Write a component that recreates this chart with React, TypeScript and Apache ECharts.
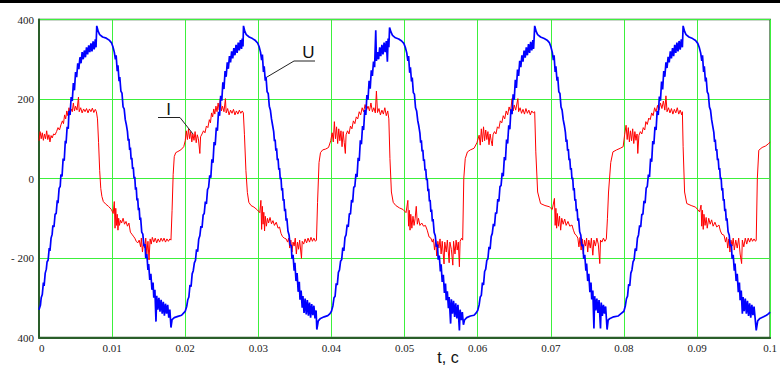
import React, { useEffect, useRef } from "react";
import * as echarts from "echarts";

// time in ms, value
const xTickValues = [0, 10, 20, 30, 40, 50, 60, 70, 80, 90, 100];
const xTickLabels = ["0", "0.01", "0.02", "0.03", "0.04", "0.05", "0.06", "0.07", "0.08", "0.09", "0.1"];
const yTickValues = [-400, -200, 0, 200, 400];
const yTickLabels = ["400", "- 200", "0", "200", "400"];
const xAxisTitle = "t, c";
const labelU = "U";
const labelI = "I";

const U_c1 = [[0.0,-330],[0.2,-318],[0.3,-300],[0.45,-292],[0.6,-262],[0.7,-270],[0.85,-238],[1.0,-228],[1.1,-210],[1.25,-205],[1.4,-175],[1.5,-182],[1.65,-150],[1.8,-140],[1.9,-118],[2.05,-122],[2.2,-90],[2.35,-88],[2.5,-55],[2.6,-62],[2.75,-25],[2.9,-20],[3.0,10],[3.15,5],[3.3,50],[3.45,45],[3.6,95],[3.7,88],[3.85,130],[4.0,125],[4.1,170],[4.25,160],[4.4,205],[4.55,195],[4.7,240],[4.85,222],[5.0,268],[5.15,255],[5.3,290],[5.45,275],[5.6,305],[5.75,290],[5.9,318],[6.05,300],[6.2,322],[6.35,305],[6.5,330],[6.65,312],[6.8,335],[6.95,318],[7.1,340],[7.25,320],[7.4,345],[7.55,325],[7.7,350],[7.8,330],[7.9,384],[8.1,370],[8.3,362],[8.7,356],[9.2,353],[9.6,348],[9.9,342],[10.1,332],[10.3,318],[10.45,300],[10.55,310],[10.7,270],[10.8,285],[10.95,245],[11.05,255],[11.2,220],[11.35,215],[11.5,180],[11.65,175],[11.8,148],[11.95,135],[12.1,118],[12.2,95],[12.3,100],[12.4,72],[12.5,78],[12.6,48],[12.7,52],[12.8,24],[12.9,28],[13.0,0],[13.1,4],[13.2,-28],[13.3,-22],[13.4,-55],[13.5,-50],[13.6,-80],[13.7,-74],[13.8,-104],[13.9,-98],[14.05,-135],[14.2,-140],[14.35,-170],[14.5,-165],[14.6,-200],[14.75,-190],[14.9,-230],[15.0,-215],[15.15,-255],[15.3,-240],[15.45,-280],[15.6,-262],[15.7,-300],[15.85,-280],[16.0,-360],[16.1,-295],[16.25,-330],[16.4,-300],[16.55,-335],[16.7,-305],[16.85,-340],[17.0,-310],[17.15,-345],[17.3,-315],[17.45,-340],[17.6,-318],[17.75,-350],[17.9,-330],[18.05,-375],[18.2,-355],[18.5,-350],[19.0,-347],[19.5,-344],[19.8,-338],[20.0,-334]];
const U_c2 = [[20.2,-322],[20.35,-305],[20.5,-298],[20.65,-268],[20.8,-272],[20.95,-240],[21.1,-232],[21.25,-212],[21.4,-206],[21.55,-178],[21.7,-184],[21.85,-152],[22.0,-144],[22.15,-120],[22.3,-124],[22.45,-92],[22.6,-88],[22.75,-58],[22.9,-64],[23.05,-28],[23.2,-22],[23.35,8],[23.5,2],[23.65,48],[23.8,40],[23.95,92],[24.1,84],[24.25,128],[24.4,120],[24.55,168],[24.7,158],[24.85,208],[25.0,196],[25.15,242],[25.3,225],[25.45,270],[25.6,256],[25.75,292],[25.9,276],[26.05,308],[26.2,292],[26.35,320],[26.5,302],[26.65,328],[26.8,310],[26.95,336],[27.1,316],[27.25,342],[27.4,322],[27.55,348],[27.7,326],[27.8,352],[27.9,332],[27.97,384],[28.15,370],[28.35,362],[28.75,356],[29.2,352],[29.6,347],[29.9,341],[30.1,332],[30.3,318],[30.45,298],[30.55,312],[30.7,268],[30.8,282],[30.95,246],[31.05,256],[31.2,218],[31.35,214],[31.5,182],[31.65,172],[31.8,150],[31.95,134],[32.1,118],[32.2,94],[32.3,98],[32.4,70],[32.5,76],[32.6,46],[32.7,50],[32.8,22],[32.9,26],[33.0,-2],[33.1,2],[33.2,-30],[33.3,-24],[33.4,-56],[33.5,-52],[33.6,-82],[33.7,-76],[33.8,-106],[33.9,-100],[34.05,-132],[34.2,-142],[34.35,-168],[34.5,-168],[34.6,-202],[34.75,-192],[34.9,-232],[35.0,-212],[35.15,-258],[35.3,-238],[35.45,-285],[35.6,-260],[35.7,-305],[35.85,-282],[36.0,-325],[36.1,-296],[36.25,-338],[36.4,-302],[36.55,-342],[36.7,-306],[36.85,-345],[37.0,-312],[37.15,-350],[37.3,-316],[37.45,-344],[37.6,-320],[37.75,-352],[37.9,-332],[38.0,-380],[38.2,-358],[38.5,-352],[39.0,-348],[39.5,-345],[39.8,-340],[40.0,-334]];
const U_c3 = [[40.2,-320],[40.35,-300],[40.5,-296],[40.65,-264],[40.8,-268],[40.95,-236],[41.1,-230],[41.25,-208],[41.4,-204],[41.55,-174],[41.7,-182],[41.85,-148],[42.0,-142],[42.15,-116],[42.3,-122],[42.45,-88],[42.6,-90],[42.75,-54],[42.9,-60],[43.05,-22],[43.2,-20],[43.35,12],[43.5,4],[43.65,52],[43.8,44],[43.95,96],[44.1,86],[44.25,132],[44.4,122],[44.55,172],[44.7,160],[44.85,210],[45.0,198],[45.15,246],[45.3,226],[45.45,272],[45.6,258],[45.75,294],[45.9,280],[46.06,373],[46.15,296],[46.3,318],[46.45,300],[46.6,330],[46.75,308],[46.9,336],[47.05,312],[47.2,342],[47.35,318],[47.5,346],[47.65,294],[47.75,352],[47.85,330],[47.95,380],[48.15,368],[48.35,360],[48.75,354],[49.2,351],[49.6,346],[49.9,340],[50.1,330],[50.3,316],[50.45,296],[50.55,308],[50.7,266],[50.8,280],[50.95,244],[51.05,254],[51.2,216],[51.35,212],[51.5,178],[51.65,170],[51.8,146],[51.95,132],[52.1,114],[52.2,90],[52.3,96],[52.4,68],[52.5,72],[52.6,44],[52.7,48],[52.8,20],[52.9,24],[53.0,-4],[53.1,0],[53.2,-32],[53.3,-26],[53.4,-58],[53.5,-54],[53.6,-84],[53.7,-78],[53.8,-108],[53.9,-102],[54.05,-136],[54.2,-144],[54.35,-172],[54.5,-166],[54.6,-204],[54.75,-194],[54.9,-234],[55.0,-216],[55.15,-260],[55.3,-242],[55.45,-288],[55.6,-264],[55.7,-306],[55.85,-284],[56.0,-326],[56.1,-298],[56.3,-365],[56.4,-304],[56.55,-340],[56.7,-308],[56.85,-348],[57.0,-314],[57.15,-352],[57.3,-318],[57.5,-382],[57.6,-330],[57.75,-356],[57.9,-336],[58.05,-368],[58.2,-356],[58.5,-350],[59.0,-346],[59.5,-344],[59.8,-338],[60.0,-332]];
const U_c4 = [[60.2,-318],[60.35,-298],[60.5,-294],[60.65,-262],[60.8,-268],[60.95,-234],[61.1,-228],[61.25,-206],[61.4,-202],[61.55,-172],[61.7,-178],[61.85,-146],[62.0,-138],[62.15,-114],[62.3,-120],[62.45,-86],[62.6,-88],[62.75,-52],[62.9,-58],[63.05,-20],[63.2,-18],[63.35,14],[63.5,6],[63.65,54],[63.8,46],[63.95,98],[64.1,88],[64.25,134],[64.4,124],[64.55,174],[64.7,162],[64.85,212],[65.0,198],[65.15,248],[65.3,228],[65.45,274],[65.6,258],[65.75,296],[65.9,280],[66.05,310],[66.2,294],[66.35,322],[66.5,304],[66.65,330],[66.8,310],[66.95,338],[67.1,316],[67.25,344],[67.4,322],[67.55,348],[67.65,326],[67.8,384],[68.0,370],[68.2,362],[68.6,356],[69.1,352],[69.5,348],[69.8,342],[70.0,332],[70.2,318],[70.35,298],[70.45,310],[70.6,268],[70.7,282],[70.85,246],[70.95,256],[71.1,218],[71.25,214],[71.4,180],[71.55,172],[71.7,148],[71.85,134],[72.0,116],[72.1,92],[72.2,98],[72.3,70],[72.4,74],[72.5,46],[72.6,50],[72.7,22],[72.8,26],[72.9,-2],[73.0,2],[73.1,-30],[73.2,-24],[73.3,-56],[73.4,-52],[73.5,-82],[73.6,-76],[73.7,-106],[73.8,-100],[73.95,-134],[74.1,-142],[74.25,-170],[74.4,-166],[74.5,-202],[74.65,-192],[74.8,-232],[74.9,-214],[75.05,-258],[75.2,-240],[75.35,-286],[75.5,-262],[75.6,-304],[75.75,-282],[75.9,-377],[76.0,-296],[76.15,-332],[76.3,-302],[76.45,-338],[76.6,-306],[76.8,-377],[76.9,-312],[77.05,-346],[77.2,-318],[77.35,-340],[77.5,-322],[77.7,-380],[77.85,-356],[78.1,-352],[78.6,-348],[79.2,-346],[79.6,-340],[80.0,-334]];
const U_c5 = [[80.2,-320],[80.35,-302],[80.5,-296],[80.65,-266],[80.8,-270],[80.95,-238],[81.1,-230],[81.25,-210],[81.4,-204],[81.55,-176],[81.7,-182],[81.85,-150],[82.0,-142],[82.15,-118],[82.3,-122],[82.45,-90],[82.6,-90],[82.75,-56],[82.9,-62],[83.05,-24],[83.2,-20],[83.35,10],[83.5,4],[83.65,50],[83.8,42],[83.95,94],[84.1,86],[84.25,130],[84.4,122],[84.55,170],[84.7,160],[84.85,206],[85.0,196],[85.15,244],[85.3,224],[85.45,270],[85.6,256],[85.75,292],[85.9,278],[86.05,306],[86.2,292],[86.35,320],[86.5,302],[86.65,328],[86.8,308],[86.95,336],[87.1,316],[87.25,342],[87.4,320],[87.55,346],[87.7,324],[87.85,350],[88.0,330],[88.1,384],[88.3,370],[88.5,362],[88.9,356],[89.4,352],[89.8,347],[90.1,340],[90.3,330],[90.5,316],[90.65,296],[90.75,310],[90.9,268],[91.0,282],[91.15,244],[91.25,254],[91.4,218],[91.55,212],[91.7,180],[91.85,172],[92.0,148],[92.15,132],[92.3,116],[92.4,92],[92.5,98],[92.6,70],[92.7,74],[92.8,46],[92.9,50],[93.0,22],[93.1,26],[93.2,-2],[93.3,2],[93.4,-30],[93.5,-24],[93.6,-56],[93.7,-52],[93.8,-82],[93.9,-76],[94.0,-106],[94.1,-100],[94.25,-134],[94.4,-142],[94.55,-170],[94.7,-166],[94.8,-202],[94.95,-192],[95.1,-232],[95.2,-214],[95.35,-258],[95.5,-240],[95.65,-286],[95.8,-262],[95.9,-306],[96.05,-282],[96.2,-340],[96.3,-298],[96.45,-334],[96.6,-302],[96.75,-340],[96.9,-308],[97.05,-346],[97.2,-314],[97.35,-350],[97.5,-318],[97.65,-344],[97.8,-322],[97.95,-352],[98.1,-382],[98.3,-358],[98.6,-352],[99.1,-348],[99.5,-344],[99.8,-340],[100.0,-336]];

const I_c1 = [[0.0,95],[0.15,118],[0.3,100],[0.45,115],[0.6,96],[0.75,112],[0.9,100],[1.05,120],[1.2,98],[1.35,110],[1.5,92],[1.65,108],[1.8,102],[2.0,112],[2.2,110],[2.4,118],[2.6,128],[2.8,122],[3.0,135],[3.2,145],[3.35,138],[3.5,160],[3.65,150],[3.8,170],[3.95,158],[4.1,178],[4.25,165],[4.4,175],[4.55,168],[4.7,190],[4.85,170],[5.0,182],[5.2,172],[5.4,205],[5.5,168],[5.7,178],[5.9,165],[6.1,175],[6.3,168],[6.5,176],[6.7,165],[6.9,175],[7.1,168],[7.3,177],[7.5,166],[7.7,174],[7.85,168],[8.0,150],[8.15,90],[8.3,20],[8.45,-25],[8.6,-45],[8.8,-58],[9.1,-64],[9.5,-70],[9.9,-78],[10.15,-88],[10.3,-58],[10.4,-125],[10.5,-75],[10.6,-118],[10.7,-90],[10.8,-130],[10.9,-100],[11.0,-118],[11.15,-105],[11.3,-112],[11.5,-100],[11.7,-115],[11.9,-108],[12.1,-120],[12.3,-112],[12.5,-135],[12.7,-140],[12.9,-145],[13.1,-150],[13.3,-158],[13.5,-162],[13.7,-155],[13.9,-172],[14.0,-150],[14.15,-185],[14.3,-160],[14.45,-175],[14.6,-150],[14.75,-190],[14.9,-158],[15.05,-205],[15.2,-152],[15.35,-165],[15.5,-148],[15.7,-160],[15.9,-150],[16.1,-162],[16.3,-152],[16.5,-160],[16.7,-150],[16.9,-158],[17.1,-150],[17.3,-160],[17.5,-152],[17.7,-158],[17.9,-152],[18.05,-155],[18.2,-80],[18.35,10],[18.5,55],[18.7,65],[19.0,68],[19.4,72],[19.8,80],[20.0,95]];
const I_c2 = [[20.15,120],[20.3,98],[20.45,125],[20.6,100],[20.75,118],[20.9,92],[21.05,112],[21.2,96],[21.35,118],[21.5,90],[21.65,110],[21.8,100],[22.0,63],[22.1,105],[22.3,112],[22.5,120],[22.7,115],[22.9,132],[23.1,128],[23.3,148],[23.45,140],[23.6,165],[23.75,155],[23.9,175],[24.05,162],[24.2,182],[24.35,168],[24.5,190],[24.65,172],[24.8,201],[24.95,170],[25.1,182],[25.3,168],[25.5,201],[25.6,165],[25.8,176],[26.0,160],[26.2,172],[26.4,164],[26.6,174],[26.8,160],[27.0,170],[27.2,162],[27.4,172],[27.6,164],[27.8,170],[27.95,165],[28.1,110],[28.3,20],[28.5,-35],[28.7,-60],[29.0,-68],[29.4,-72],[29.8,-78],[30.2,-86],[30.35,-55],[30.45,-128],[30.55,-70],[30.65,-115],[30.75,-85],[30.85,-132],[30.95,-95],[31.1,-120],[31.25,-100],[31.4,-112],[31.6,-98],[31.8,-114],[32.0,-106],[32.2,-118],[32.45,-110],[32.7,-125],[32.9,-122],[33.1,-138],[33.3,-146],[33.55,-150],[33.8,-152],[34.0,-160],[34.15,-150],[34.3,-175],[34.45,-155],[34.6,-185],[34.75,-160],[34.9,-170],[35.05,-150],[35.2,-190],[35.35,-160],[35.5,-178],[35.65,-155],[35.9,-201],[36.0,-158],[36.2,-165],[36.4,-152],[36.6,-162],[36.8,-150],[37.0,-160],[37.2,-148],[37.4,-158],[37.6,-150],[37.8,-158],[37.95,-155],[38.1,-60],[38.3,40],[38.5,65],[38.8,72],[39.2,74],[39.6,78],[39.9,95]];
const I_c3 = [[40.1,115],[40.25,92],[40.4,143],[40.55,100],[40.7,130],[40.85,88],[41.0,125],[41.15,95],[41.3,120],[41.45,80],[41.6,118],[41.75,90],[41.9,63],[42.0,110],[42.2,120],[42.4,112],[42.6,132],[42.8,125],[43.0,145],[43.2,138],[43.4,155],[43.6,150],[43.8,168],[44.0,160],[44.2,178],[44.4,168],[44.6,186],[44.8,172],[45.0,182],[45.2,170],[45.4,190],[45.6,168],[45.8,178],[46.0,165],[46.15,220],[46.3,166],[46.5,176],[46.7,160],[46.9,172],[47.1,162],[47.3,178],[47.5,158],[47.7,170],[47.85,150],[48.0,50],[48.2,-34],[48.45,-60],[48.8,-68],[49.3,-74],[49.8,-78],[50.2,-86],[50.45,-55],[50.55,-120],[50.65,-80],[50.75,-130],[50.85,-90],[51.0,-125],[51.15,-95],[51.3,-118],[51.45,-100],[51.6,-70],[51.75,-115],[51.9,-100],[52.1,-118],[52.35,-112],[52.6,-120],[52.85,-118],[53.1,-130],[53.35,-147],[53.6,-150],[53.8,-160],[53.95,-152],[54.1,-180],[54.25,-155],[54.4,-195],[54.55,-158],[54.7,-175],[54.85,-152],[55.0,-190],[55.15,-158],[55.4,-215],[55.5,-160],[55.7,-185],[55.85,-155],[56.1,-212],[56.2,-160],[56.4,-178],[56.6,-218],[56.7,-158],[56.9,-190],[57.05,-155],[57.2,-180],[57.35,-160],[57.5,-222],[57.6,-158],[57.8,-150],[57.95,-155],[58.1,0],[58.3,50],[58.6,67],[59.0,72],[59.5,76],[59.9,90],[60.2,109]];
const I_c4 = [[60.35,84],[60.5,125],[60.65,92],[60.8,130],[60.95,95],[61.1,122],[61.25,98],[61.4,118],[61.55,85],[61.7,112],[61.85,95],[62.0,82],[62.1,110],[62.3,118],[62.5,112],[62.7,130],[62.9,126],[63.1,145],[63.3,140],[63.5,158],[63.7,150],[63.9,170],[64.1,160],[64.3,180],[64.5,168],[64.7,201],[64.85,170],[65.0,185],[65.2,172],[65.5,201],[65.6,168],[65.8,178],[66.0,164],[66.2,174],[66.4,162],[66.6,176],[66.8,164],[67.0,172],[67.2,160],[67.4,170],[67.6,165],[67.8,168],[67.95,67],[68.2,-34],[68.6,-63],[69.2,-68],[69.8,-71],[70.2,-78],[70.5,-50],[70.6,-118],[70.7,-75],[70.8,-125],[70.9,-88],[71.05,-120],[71.2,-95],[71.35,-130],[71.5,-100],[71.7,-115],[71.9,-102],[72.1,-118],[72.35,-108],[72.6,-120],[72.9,-117],[73.1,-130],[73.3,-140],[73.5,-143],[73.7,-150],[73.85,-172],[74.0,-148],[74.15,-180],[74.3,-152],[74.45,-190],[74.6,-155],[74.75,-170],[74.9,-150],[75.05,-185],[75.2,-155],[75.4,-175],[75.55,-150],[75.75,-193],[75.9,-155],[76.1,-170],[76.3,-150],[76.5,-165],[76.7,-214],[76.8,-155],[77.0,-160],[77.2,-150],[77.4,-158],[77.6,-152],[77.75,-100],[77.9,-34],[78.2,40],[78.5,67],[79.0,72],[79.5,76],[79.9,80]];
const I_c5 = [[80.1,110],[80.3,134],[80.45,98],[80.6,128],[80.75,92],[80.9,120],[81.05,95],[81.2,125],[81.35,88],[81.5,118],[81.65,96],[81.8,112],[81.9,63],[82.05,108],[82.25,118],[82.45,112],[82.65,128],[82.85,122],[83.0,143],[83.2,136],[83.4,152],[83.6,148],[83.8,165],[84.0,158],[84.2,178],[84.4,168],[84.6,184],[84.8,172],[85.0,190],[85.2,176],[85.4,195],[85.6,172],[85.75,208],[85.9,168],[86.1,178],[86.3,165],[86.5,176],[86.7,162],[86.9,174],[87.1,165],[87.3,178],[87.5,162],[87.7,172],[87.9,160],[88.0,168],[88.1,80],[88.3,-34],[88.6,-63],[89.2,-68],[89.8,-72],[90.35,-84],[90.55,-67],[90.65,-120],[90.75,-80],[90.85,-128],[90.95,-90],[91.1,-118],[91.25,-98],[91.4,-125],[91.6,-100],[91.8,-115],[92.0,-104],[92.2,-120],[92.45,-110],[92.7,-122],[93.0,-117],[93.2,-132],[93.4,-140],[93.7,-143],[93.9,-160],[94.05,-148],[94.2,-175],[94.35,-152],[94.5,-185],[94.65,-155],[94.8,-170],[94.95,-150],[95.1,-180],[95.3,-155],[95.5,-175],[95.7,-150],[95.9,-190],[96.1,-214],[96.2,-155],[96.4,-172],[96.6,-150],[96.8,-165],[97.0,-150],[97.2,-160],[97.4,-150],[97.6,-158],[97.8,-152],[98.0,-158],[98.1,-155],[98.25,0],[98.45,71],[98.9,78],[99.4,82],[99.8,88],[100.0,92]];

const seriesU = [...U_c1, ...U_c2, ...U_c3, ...U_c4, ...U_c5];
const seriesI = [...I_c1, ...I_c2, ...I_c3, ...I_c4, ...I_c5];

const FRAME = "#2a5e2a";
const GRID = "#3cf03c";
const LABEL_FONT = "'Liberation Serif', 'DejaVu Serif', serif";
const SANS = "'Liberation Sans', Arial, sans-serif";

export default function App() {
  const ref = useRef<HTMLDivElement>(null);
  useEffect(() => {
    if (!ref.current) return;
    const chart = echarts.init(ref.current, undefined, { renderer: "svg" });
    chart.setOption({
      animation: false,
      backgroundColor: "#ffffff",
      grid: {
        left: 39,
        right: 5,
        top: 19.5,
        bottom: 27.5,
        show: true,
        borderColor: FRAME,
        borderWidth: 1.5,
        backgroundColor: "transparent",
      },
      xAxis: {
        type: "value",
        min: 0,
        max: 100,
        interval: 10,
        axisLine: { show: true, onZero: false, lineStyle: { color: FRAME, width: 2 } },
        axisTick: { show: false },
        splitLine: { show: true, lineStyle: { color: GRID, width: 1 } },
        axisLabel: {
          margin: 5,
          fontFamily: LABEL_FONT,
          fontSize: 11,
          color: "#222",
          alignMinLabel: "left",
          alignMaxLabel: "center",
          formatter: (v: number) => {
            const i = xTickValues.indexOf(Math.round(v));
            return i >= 0 ? xTickLabels[i] : "";
          },
        },
      },
      yAxis: {
        type: "value",
        min: -400,
        max: 400,
        interval: 200,
        axisLine: { show: true, onZero: false, lineStyle: { color: FRAME, width: 2 } },
        axisTick: { show: false },
        splitLine: { show: true, lineStyle: { color: GRID, width: 1 } },
        axisLabel: {
          margin: 5,
          fontFamily: LABEL_FONT,
          fontSize: 11,
          color: "#222",
          formatter: (v: number) => {
            const i = yTickValues.indexOf(Math.round(v));
            return i >= 0 ? yTickLabels[i] : "";
          },
        },
      },
      series: [
        {
          name: "I",
          type: "line",
          data: seriesI,
          showSymbol: false,
          symbol: "none",
          lineStyle: { color: "#ff0000", width: 1 },
          z: 2,
        },
        {
          name: "U",
          type: "line",
          data: seriesU,
          showSymbol: false,
          symbol: "none",
          lineStyle: { color: "#0000ff", width: 1.7 },
          z: 3,
        },
      ],
      graphic: [
        { type: "rect", shape: { x: 0, y: 0, width: 780, height: 3 }, style: { fill: "#000" } },
        {
          type: "polyline",
          shape: { points: [[267, 77], [294, 61], [315, 61]] },
          style: { stroke: "#222", lineWidth: 1, fill: null },
          z: 10,
        },
        {
          type: "polyline",
          shape: { points: [[158, 117.5], [180, 117.5], [193, 134]] },
          style: { stroke: "#222", lineWidth: 1, fill: null },
          z: 10,
        },
        {
          type: "text",
          x: 308.5,
          y: 52,
          style: { text: labelU, font: `17px ${SANS}`, fill: "#111", align: "center", verticalAlign: "middle" },
          z: 10,
        },
        {
          type: "text",
          x: 168.5,
          y: 109,
          style: { text: labelI, font: `17px ${SANS}`, fill: "#111", align: "center", verticalAlign: "middle" },
          z: 10,
        },
        {
          type: "text",
          x: 448,
          y: 357,
          style: { text: xAxisTitle, font: `16px ${SANS}`, fill: "#111", align: "center", verticalAlign: "middle" },
          z: 10,
        },
      ],
    });
    return () => chart.dispose();
  }, []);
  return (
    <div
      ref={ref}
      style={{ position: "fixed", left: 0, top: 0, width: 780, height: 365, background: "#fff" }}
    />
  );
}
